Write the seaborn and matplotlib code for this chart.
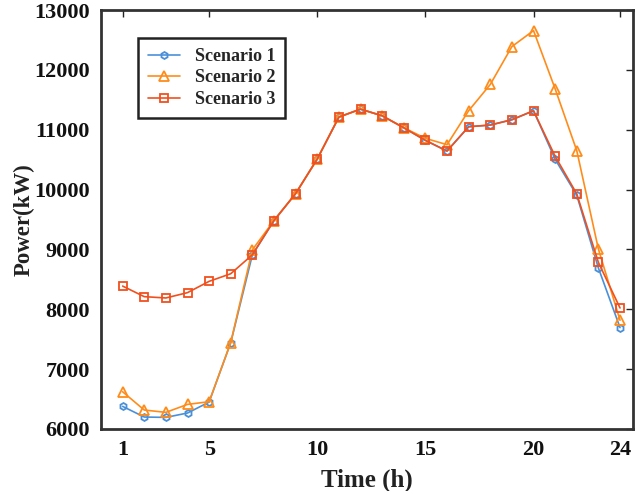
import numpy as np
import pandas as pd
import matplotlib
matplotlib.use("Agg")
import matplotlib.pyplot as plt
import seaborn as sns

hours = list(range(1, 25))
scenario1 = [6378, 6200, 6194, 6267, 6450, 7444, 8911, 9483, 9933, 10511, 11211, 11344,
             11233, 11033, 10822, 10644, 11050, 11078, 11167, 11317, 10506, 9906, 8689, 7694]
scenario2 = [6622, 6317, 6278, 6411, 6456, 7444, 8994, 9483, 9933, 10511, 11211, 11344,
             11233, 11033, 10856, 10750, 11317, 11756, 12389, 12656, 11683, 10650, 9006, 7817]
scenario3 = [8388, 8211, 8189, 8278, 8467, 8594, 8911, 9483, 9933, 10511, 11211, 11344,
             11233, 11033, 10822, 10644, 11050, 11078, 11167, 11317, 10556, 9928, 8783, 8022]
series_names = ["Scenario 1", "Scenario 2", "Scenario 3"]
xtick_vals = [1, 5, 10, 15, 20, 24]
ytick_vals = [6000, 7000, 8000, 9000, 10000, 11000, 12000, 13000]

sns.set_style("white")
plt.rcParams['font.family'] = ['Liberation Serif', 'DejaVu Serif']
plt.rcParams['font.weight'] = 'bold'

fig = plt.figure(figsize=(6.36, 4.91), dpi=100)
ax = fig.add_axes([101/636, 1-429/491, (633-101)/636, (429-10)/491])

colors = ["#4a90d9", "#ff8c1a", "#f0501e"]
markers = ["h", "^", "s"]
msizes = [5, 7, 5.5]
for name, vals, c, m, ms in zip(series_names, [scenario1, scenario2, scenario3], colors, markers, msizes):
    df = pd.DataFrame({"Time": hours, "Power": vals})
    sns.lineplot(data=df, x="Time", y="Power", ax=ax, color=c, marker=m,
                 markersize=ms, markerfacecolor="none", markeredgecolor=c,
                 markeredgewidth=1.3, linewidth=1.2, label=name)

ax.set_xlim(0, 24.6)
ax.set_ylim(6000, 13000)
ax.set_xticks(xtick_vals)
ax.set_yticks(ytick_vals)
ax.tick_params(axis='both', which='both', direction='in', length=5, width=1,
               top=True, right=True, labelsize=16, pad=8, colors='#222222',
               labelcolor='#111111')
# no tick marks drawn at hours 1 and 24
for t in ax.xaxis.get_major_ticks():
    if t.get_loc() in (1, 24):
        t.tick1line.set_visible(False)
        t.tick2line.set_visible(False)
for lbl in ax.get_xticklabels() + ax.get_yticklabels():
    lbl.set_fontweight('bold')
for sp in ax.spines.values():
    sp.set_linewidth(2)
    sp.set_color('#333333')

ax.set_xlabel("Time (h)", fontsize=18, fontweight='bold', color='#222222', labelpad=6)
ax.set_ylabel("Power(kW)", fontsize=16.5, fontweight='bold', color='#222222', labelpad=0)

leg = ax.legend(loc='upper left', bbox_to_anchor=((138-101)/532, (429-38)/419),
                prop={'family': 'Liberation Serif', 'weight': 'bold', 'size': 13},
                frameon=True, fancybox=False, framealpha=1, borderpad=0.55,
                handlelength=1.8, handletextpad=0.8, labelspacing=0.25,
                borderaxespad=0)
leg.get_frame().set_edgecolor('#222222')
leg.get_frame().set_linewidth(1.8)

fig.savefig("out.png", dpi=100)
